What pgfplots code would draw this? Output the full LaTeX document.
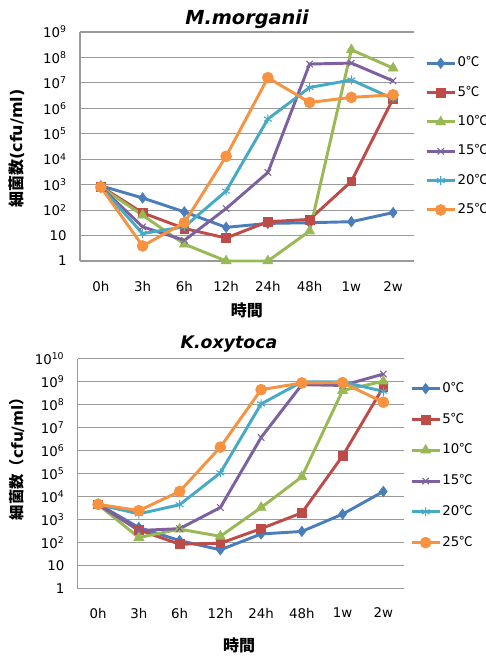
\documentclass[border=0pt]{standalone}
\usepackage{pgfplots}
\pgfplotsset{compat=1.18}
\usepackage{pgfplotstable}
\usepackage{fontspec}
\setmainfont{DejaVu Sans}[ItalicFont={DejaVu Sans Oblique},BoldItalicFont={DejaVu Sans Bold Oblique}]
\newfontfamily\cjk{Noto Sans CJK JP}

\definecolor{s0}{HTML}{4A7EBB}
\definecolor{s5}{HTML}{BE4B48}
\definecolor{s10}{HTML}{98B954}
\definecolor{s15}{HTML}{7D60A0}
\definecolor{s20}{HTML}{46AAC5}
\definecolor{s25}{HTML}{F69240}
\definecolor{gridgray}{HTML}{9A9A9A}

% x: 0h 3h 6h 12h 24h 48h 1w 2w ; columns: 0, 5, 10, 15, 20, 25 degC (cfu/ml)
\pgfplotstableread{
x a b c d e f
0 900 850 800 800 800 800
1 300 78 63 22 12 3.9
2 85 19 4.6 6.5 22 32
3 21 8 1 115 560 13000
4 30 35 1 3000 3.8e5 1.6e7
5 32 43 15 5.5e7 6.6e6 1.7e6
6 35 1350 2e8 6e7 1.3e7 2.7e6
7 80 2.4e6 3.8e7 1.2e7 2.4e6 3.4e6
}\morganii

\pgfplotstableread{
x a b c d e f
0 4800 4700 4600 4600 4600 4700
1 460 360 167 340 1800 2500
2 124 86 390 410 4500 17000
3 49 95 190 3400 1.1e5 1.45e6
4 240 410 3400 3.8e6 1.1e8 4.6e8
5 310 2000 74000 7.6e8 1e9 9e8
6 1750 6e5 4.2e8 7e8 1e9 9.3e8
7 17000 6e8 1.07e9 2.2e9 3.9e8 1.3e8
}\oxytoca

\tikzset{
  c0/.style={color=s0, line width=2.2pt, mark=diamond*, mark size=3.9pt, mark options={solid, line width=0.5pt}},
  c5/.style={color=s5, line width=2.2pt, mark=square*, mark size=3.3pt, mark options={solid, line width=0.5pt}},
  c10/.style={color=s10, line width=2.2pt, mark=triangle*, mark size=4.3pt, mark options={solid, line width=0.5pt}},
  c15/.style={color=s15, line width=2.2pt, mark=x, mark size=3.4pt, mark options={solid, line width=0.8pt}},
  c20/.style={color=s20, line width=2.2pt, mark=asterisk, mark size=3.4pt, mark options={solid, line width=0.8pt}},
  c25/.style={color=s25, line width=2.2pt, mark=*, mark size=4.1pt, mark options={solid, line width=0.5pt}},
}

\newcommand{\degc}[1]{#1{\cjk ℃}}

\begin{document}
\begin{tikzpicture}
\path[use as bounding box] (0pt,0pt) rectangle (364.5pt,493.5pt);

\begin{axis}[
  scale only axis, ymode=log, log basis y=10,
  xmin=-0.5, xmax=7.5, xtick={0,...,7},
  xticklabels={0h,3h,6h,12h,24h,48h,1w,2w},
  ymin=1, ymax=1e9,
  axis x line=bottom, axis y line=left,
  axis line style={-, draw=gridgray, line width=0.8pt},
  ymajorgrids, grid style={draw=gridgray, line width=0.8pt},
  major tick length=0pt, minor tick length=0pt,
  tick label style={font=\fontsize{10}{12}\selectfont},
  xticklabel style={yshift=-12pt},
  yticklabel style={xshift=-6.5pt},
  clip=false,
  legend cell align=left,
  legend style={draw=none, fill=none, anchor=north west, inner sep=0pt,
    font=\fontsize{10}{12}\selectfont,
    nodes={inner sep=1pt, text height=7.5pt, text depth=2pt},
    at={(1.033,0.898)}, row sep=10.5pt},
  legend image code/.code={\draw[mark repeat=2,mark phase=2]
    plot coordinates {(0pt,0pt) (10.5pt,0pt) (21pt,0pt)};},
  at={(60pt,297.75pt)}, anchor=south west,
  width=250.5pt, height=171.75pt,
  ytick={1,10,100,1000,1e4,1e5,1e6,1e7,1e8,1e9},
  yticklabels={1,10,10\textsuperscript{2},10\textsuperscript{3},10\textsuperscript{4},10\textsuperscript{5},10\textsuperscript{6},10\textsuperscript{7},10\textsuperscript{8},10\textsuperscript{9}},
  title={M.morganii},
  title style={at={(axis description cs:0.5,1)}, anchor=center, yshift=3.5pt, font=\bfseries\itshape\fontsize{14.5}{17}\selectfont},
  xlabel={時間},
  xlabel style={at={(axis description cs:0.5,-0.214)}, anchor=center, font=\cjk\bfseries\fontsize{12}{14}\selectfont},
  ylabel={{\cjk 細菌数}(cfu/ml)},
  ylabel style={at={(axis description cs:-0.189,0.491)}, anchor=center, font=\bfseries\fontsize{12}{14}\selectfont},
]
\addplot[c0] table[x=x,y=a]{\morganii};
\addplot[c5] table[x=x,y=b]{\morganii};
\addplot[c10] table[x=x,y=c]{\morganii};
\addplot[c15] table[x=x,y=d]{\morganii};
\addplot[c20] table[x=x,y=e]{\morganii};
\addplot[c25] table[x=x,y=f]{\morganii};
\legend{\degc{0},\degc{5},\degc{10},\degc{15},\degc{20},\degc{25}}
\end{axis}

\begin{axis}[
  scale only axis, ymode=log, log basis y=10,
  xmin=-0.5, xmax=7.5, xtick={0,...,7},
  xticklabels={0h,3h,6h,12h,24h,48h,1w,2w},
  ymin=1, ymax=1e10,
  axis x line=bottom, axis y line=left,
  axis line style={-, draw=gridgray, line width=0.8pt},
  ymajorgrids, grid style={draw=gridgray, line width=0.8pt},
  major tick length=0pt, minor tick length=0pt,
  tick label style={font=\fontsize{10}{12}\selectfont},
  xticklabel style={yshift=-11pt},
  yticklabel style={xshift=-6.5pt},
  clip=false,
  legend cell align=left,
  legend style={draw=none, fill=none, anchor=north west, inner sep=0pt,
    font=\fontsize{10}{12}\selectfont,
    nodes={inner sep=1pt, text height=7.5pt, text depth=2pt},
    at={(1.019,0.905)}, row sep=11.6pt},
  legend image code/.code={\draw[mark repeat=2,mark phase=2]
    plot coordinates {(0pt,0pt) (10.5pt,0pt) (21pt,0pt)};},
  at={(58.3pt,52pt)}, anchor=south west,
  width=244.5pt, height=172.3pt,
  ytick={1,10,100,1000,1e4,1e5,1e6,1e7,1e8,1e9,1e10},
  yticklabels={1,10,10\textsuperscript{2},10\textsuperscript{3},10\textsuperscript{4},10\textsuperscript{5},10\textsuperscript{6},10\textsuperscript{7},10\textsuperscript{8},10\textsuperscript{9},10\textsuperscript{10}},
  title={K.oxytoca},
  title style={at={(axis description cs:0.464,1)}, anchor=center, yshift=5.5pt, font=\bfseries\itshape\fontsize{13}{16}\selectfont},
  xlabel={時間},
  xlabel style={at={(axis description cs:0.495,-0.245)}, anchor=center, font=\cjk\bfseries\fontsize{12}{14}\selectfont},
  ylabel={{\cjk 細菌数（}cfu/ml{\cjk ）}},
  ylabel style={at={(axis description cs:-0.186,0.582)}, anchor=center, font=\bfseries\fontsize{11.5}{14}\selectfont},
]
\addplot[c0] table[x=x,y=a]{\oxytoca};
\addplot[c5] table[x=x,y=b]{\oxytoca};
\addplot[c10] table[x=x,y=c]{\oxytoca};
\addplot[c15] table[x=x,y=d]{\oxytoca};
\addplot[c20] table[x=x,y=e]{\oxytoca};
\addplot[c25] table[x=x,y=f]{\oxytoca};
\legend{\degc{0},\degc{5},\degc{10},\degc{15},\degc{20},\degc{25}}
\end{axis}
\end{tikzpicture}
\end{document}
